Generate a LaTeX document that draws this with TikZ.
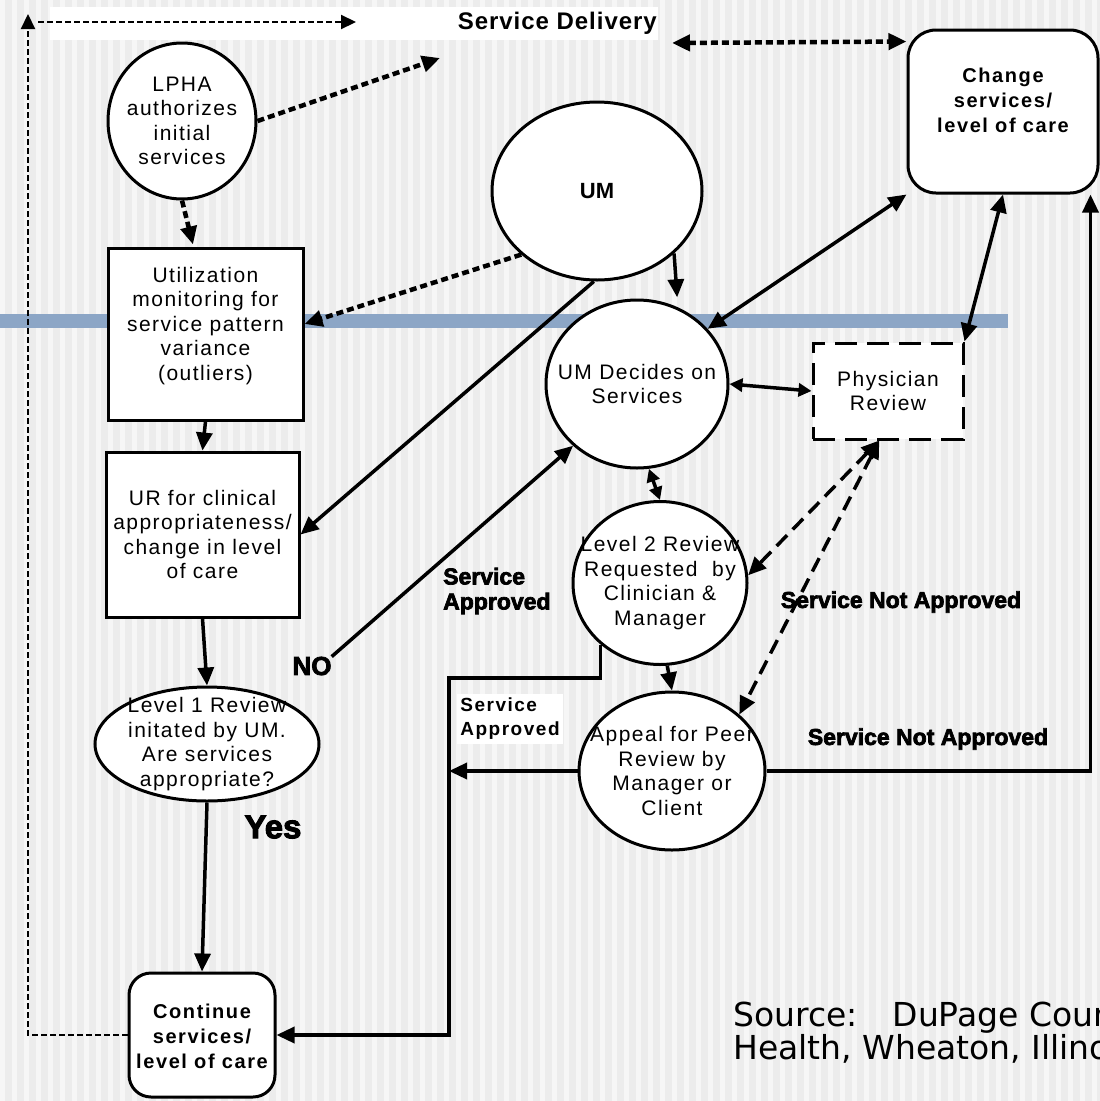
\documentclass[tikz,border=0pt]{standalone}
\usepackage{fontspec}
\setmainfont{Liberation Sans}
\newfontfamily\nodefont[LetterSpace=7]{Liberation Sans}
\newfontfamily\boldsp[LetterSpace=8]{Liberation Sans}
\newfontfamily\sdfont[LetterSpace=4]{Liberation Sans}
\newfontfamily\heavyfont[FakeBold=3]{Liberation Sans Bold}
\newfontfamily\srcfont{DejaVu Sans}
\usetikzlibrary{arrows.meta,shapes.geometric,calc}
\definecolor{bggray}{RGB}{236,236,236}
\definecolor{stripe}{RGB}{246,246,246}
\definecolor{barblue}{RGB}{140,166,198}
\tikzset{
  tip/.tip={Triangle[length=18pt,width=16pt]},
  stip/.tip={Triangle[length=13pt,width=13pt]},
  txt/.style={font=\nodefont\fontsize{21}{24.5}\selectfont, align=center},
  bub/.style={ellipse, draw, line width=3pt, fill=white, inner sep=0pt},
  boxn/.style={rectangle, draw, line width=3pt, fill=white, inner sep=0pt, txt},
  rbox/.style={boxn, rounded corners=24pt},
  boldtxt/.style={font=\boldsp\bfseries\fontsize{20}{25}\selectfont, align=center},
  heavy/.style={font=\heavyfont\fontsize{23}{25}\selectfont, align=left, inner sep=0pt},
  conn/.style={line width=3.5pt, -tip},
  dbl/.style={line width=3.5pt, tip-tip},
  sdbl/.style={line width=3.5pt, stip-stip},
  dotarr/.style={line width=4.5pt, dash pattern=on 7pt off 4pt, -tip},
  dotdbl/.style={line width=4.5pt, dash pattern=on 7pt off 4pt, tip-tip},
  dashdbl/.style={line width=3.5pt, dash pattern=on 15pt off 8pt, tip-tip},
  thindash/.style={line width=2.2pt, dash pattern=on 6pt off 3pt, -{Triangle[length=15pt,width=14pt]}}
}
\begin{document}
\begin{tikzpicture}[x=1pt,y=-1pt]
\useasboundingbox (0,0) rectangle (1100,1101);
\clip (0,0) rectangle (1100,1101);
% background
\fill[bggray] (0,0) rectangle (1100,1101);
\foreach \i in {0,...,91} {\fill[stripe] (\i*12,0) rectangle ++(5,1101);}
\fill[barblue] (0,314) rectangle (1008,328);
\fill[white] (50,7) rectangle (658,40);
\node[font=\sdfont\bfseries\fontsize{24}{26}\selectfont, anchor=east, inner sep=0pt] (sd) at (657,23) {Service Delivery};

% nodes
\node[bub, minimum width=148, minimum height=156, label={[txt]center:{LPHA\\authorizes\\initial\\services}}] (lpha) at (182,121) {};
\node[bub, minimum width=210, minimum height=178, label={[font=\bfseries\fontsize{22}{25}\selectfont]center:UM}] (um) at (597,191) {};
\node[boxn, minimum width=195, minimum height=172] (util) at (205.5,334) {};
\node[txt] (utiltxt) at (205.5,326) {Utilization\\monitoring for\\service pattern\\variance\\(outliers)};
\node[boxn, minimum width=193, minimum height=165] (ur) at (202.5,534.5) {UR for clinical\\appropriateness/\\change in level\\of care};
\node[bub, minimum width=224, minimum height=114, label={[txt]center:{Level 1 Review\\initated by UM.\\Are services\\appropriate?}}] (l1) at (207,744) {};
\node[rbox, minimum width=146, minimum height=124, rounded corners=22pt] (cont) at (202,1035) {};
\node[boldtxt] (conttxt) at (202,1036) {Continue\\services/\\level of care};
\node[bub, minimum width=182, minimum height=168, label={[txt]center:{UM Decides on\\Services}}] (umd) at (637,384) {};
\node[boxn, dash pattern=on 22pt off 10pt, minimum width=150, minimum height=96] (phys) at (888,391) {Physician\\Review};
\node[rbox, minimum width=190, minimum height=163, rounded corners=28pt] (change) at (1003,111.5) {};
\node[boldtxt] (changetxt) at (1003,100) {Change\\services/\\level of care};
\node[bub, minimum width=174, minimum height=163, label={[txt]center:{Level 2 Review\\Requested~ by\\Clinician \&\\Manager}}] (l2) at (660,583) {};
\node[bub, minimum width=186, minimum height=158, label={[txt]center:{Appeal for Peer\\Review by\\Manager or\\Client}}] (app) at (672,771) {};

% labels
\node[heavy, anchor=west] (sapp) at (443,591) {Service\\Approved};
\node[heavy, anchor=center] (sna1) at (901,602) {Service Not Approved};
\node[heavy, anchor=center] (sna2) at (928,739) {Service Not Approved};
\node[heavy, font=\heavyfont\fontsize{26}{28}\selectfont] (no) at (312,666) {NO};
\node[heavy, font=\heavyfont\fontsize{33}{35}\selectfont] (yes) at (273,827) {Yes};
\node[fill=white, inner xsep=3pt, inner ysep=4pt, align=left, font=\boldsp\bfseries\fontsize{19}{24}\selectfont] (sapp2) at (510,719) {Service\\Approved};
\node[font=\srcfont\fontsize{33}{33}\selectfont, align=left, anchor=base west, inner sep=0pt] (src) at (733,1059) {Source:~~ DuPage County\\Health, Wheaton, Illinois};

% coordinates
\coordinate (tlc) at (28,14);
\coordinate (sdl) at (356,22);
\coordinate (sda) at (440,58);
\coordinate (sdr) at (672,43);
\coordinate (sa) at (449,678);
\coordinate (cse) at ($(change.south east)+(-9,0)$);

% connectors
\draw[thindash] (cont.west) -| (tlc);
\draw[thindash] ($(tlc)+(10,8)$) -- (sdl);
\draw[dotarr] (lpha.east) -- (sda);
\draw[dotarr] (lpha.south) -- ($(util.north)+(-12.5,-2)$);
\draw[dotdbl] (sdr) -- ($(change.north west)+(0,13)$);
\draw[dotarr] (um.220) -- ($(util.east)+(0,-10)$);
\draw[conn] (um.268) -- (ur.east);
\draw[conn, shorten >=10pt] (um.-39) -- (umd.62);
\draw[dbl] (umd.38) -- (change.south west);
\draw[sdbl] (umd.east) -- (phys.west);
\draw[dbl] (phys.north east) -- (change.south);
\draw[sdbl] (umd.-82) -- (l2.north);
\draw[conn] (no.north east) -- (umd.224);
\draw[dashdbl] (phys.-100) -- (l2.5);
\draw[dashdbl] (phys.-100) -- (app.40);
\draw[conn] (l2.-85) -- (app.north);
\draw[conn] (l2.226) |- (sa) |- (cont.east);
\draw[conn] (app.west) -- (app.west -| sa);
\draw[conn] (app.east) -| (cse);
\draw[conn] (util.south) -- (ur.north);
\draw[conn] (ur.south) -- (l1.north);
\draw[conn] (l1.south) -- (cont.north);
\end{tikzpicture}
\end{document}
